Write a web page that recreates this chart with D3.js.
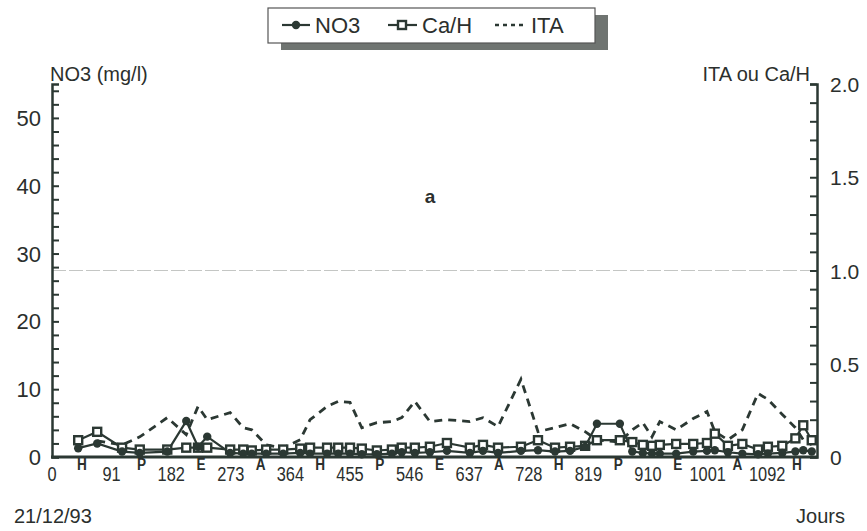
<!DOCTYPE html>
<html>
<head>
<meta charset="utf-8">
<script src="https://cdn.jsdelivr.net/npm/d3@7"></script>
<style>
  body { margin: 0; background: #ffffff; }
  text { fill: #2b2f2d; font-family: "Liberation Sans", Arial, sans-serif; }
</style>
</head>
<body>
<svg id="chart" width="867" height="531"></svg>
<script>
// sampling days since 21/12/93
var days = [40, 69, 107, 134, 176, 205, 223, 237, 272, 292, 305, 327, 353, 379, 394, 420,
  437, 455, 473, 496, 519, 534, 554, 577, 603, 638, 658, 681, 716, 742, 768, 791, 814,
  832, 867, 886, 902, 916, 928, 953, 979, 1000, 1012, 1032, 1054, 1078, 1093, 1115, 1135,
  1147, 1160];

// NO3 (mg/l), left axis
var no3 = [1.3, 2.0, 0.8, 0.6, 0.8, 5.3, 1.5, 3.0, 0.6, 0.5, 0.5, 0.5, 0.5, 0.6, 0.5, 0.5,
  0.5, 0.5, 0.4, 0.4, 0.5, 0.7, 0.6, 0.7, 0.9, 0.6, 0.9, 0.6, 0.9, 1.0, 0.8, 0.9, 1.5,
  4.9, 4.9, 0.8, 0.6, 0.5, 0.5, 0.5, 0.8, 0.9, 1.0, 0.7, 0.5, 0.4, 0.5, 0.6, 0.8,
  1.0, 0.8];

// Ca/H, right axis
var caH = [0.09, 0.135, 0.05, 0.04, 0.04, 0.05, 0.05, 0.05, 0.04, 0.04, 0.035, 0.04, 0.04, 0.045, 0.05, 0.05,
  0.05, 0.05, 0.045, 0.035, 0.04, 0.05, 0.05, 0.055, 0.075, 0.05, 0.065, 0.05, 0.055, 0.09, 0.05, 0.055, 0.06,
  0.09, 0.09, 0.08, 0.065, 0.06, 0.065, 0.07, 0.07, 0.075, 0.125, 0.06, 0.07, 0.04, 0.055, 0.06, 0.1,
  0.17, 0.09];

// ITA, right axis (no value on first sample)
var ita = [null, 0.087, 0.065, 0.108, 0.211, 0.12, 0.271, 0.2, 0.238, 0.157, 0.146, 0.065, 0.049, 0.092, 0.2, 0.271,
  0.298, 0.293, 0.157, 0.184, 0.19, 0.211, 0.298, 0.19, 0.2, 0.19, 0.211, 0.163, 0.417, 0.136, 0.157, 0.179, 0.136,
  0.092, 0.08, 0.146, 0.184, 0.108, 0.19, 0.146, 0.206, 0.244, 0.136, 0.092, 0.146, 0.341, 0.309, 0.228, 0.157,
  0.092, 0.065];

// x tick labels and season letters between them
var dayTicks = [0, 91, 182, 273, 364, 455, 546, 637, 728, 819, 910, 1001, 1092];
var seasons = ["H", "P", "E", "A", "H", "P", "E", "A", "H", "P", "E", "A", "H"];
var leftTicks = [0, 10, 20, 30, 40, 50];
var rightTicks = [0, 0.5, 1.0, 1.5, 2.0];

var ink = "#2b3833";
var svg = d3.select("#chart");

// Scales
var xScale = d3.scaleLinear().domain([0, 1168]).range([52, 817]);
var yLeft = d3.scaleLinear().domain([0, 55]).range([457, 84]);
var yRight = d3.scaleLinear().domain([0, 2.0]).range([457, 84]);

// faint line at 1.0
svg.append("line")
  .attr("x1", xScale(0)).attr("x2", xScale(1168))
  .attr("y1", yRight(1.0)).attr("y2", yRight(1.0))
  .attr("stroke", "#c4c6c4").attr("stroke-width", 1.2)
  .attr("stroke-dasharray", "14,3");

// Left axis (ticks inside, every 2)
var leftAxis = d3.axisRight(yLeft)
  .tickValues(d3.range(0, 55, 2))
  .tickSize(7)
  .tickFormat("");
svg.append("g")
  .attr("transform", "translate(" + xScale(0) + ",0)")
  .call(leftAxis)
  .call((g) => g.select(".domain").attr("stroke", ink).attr("stroke-width", 2.5))
  .call((g) => g.selectAll(".tick line").attr("stroke", ink).attr("stroke-width", 2));

svg.append("g").selectAll("text")
  .data(leftTicks)
  .enter()
  .append("text")
  .attr("x", 41)
  .attr("y", (d) => yLeft(d) + 8)
  .attr("text-anchor", "end")
  .style("font-size", "22px")
  .text((d) => d);

// Right axis (ticks inside, every 0.1)
var rightAxis = d3.axisLeft(yRight)
  .tickValues(d3.range(0, 21).map((i) => i / 10))
  .tickSize(7)
  .tickFormat("");
svg.append("g")
  .attr("transform", "translate(" + xScale(1168) + ",0)")
  .call(rightAxis)
  .call((g) => g.select(".domain").attr("stroke", ink).attr("stroke-width", 2.5))
  .call((g) => g.selectAll(".tick line").attr("stroke", ink).attr("stroke-width", 2));

svg.append("g").selectAll("text")
  .data(rightTicks)
  .enter()
  .append("text")
  .attr("x", 830)
  .attr("y", (d) => yRight(d) + 8)
  .style("font-size", "21px")
  .text((d) => (d === 0 ? "0" : d.toFixed(1)));

// Bottom axis line
svg.append("line")
  .attr("x1", xScale(0) - 1).attr("x2", xScale(1168) + 1)
  .attr("y1", yLeft(0)).attr("y2", yLeft(0))
  .attr("stroke", ink).attr("stroke-width", 3);

// Day numbers and season letters (condensed look)
svg.append("g").selectAll("text")
  .data(dayTicks)
  .enter()
  .append("text")
  .attr("transform", (d) => "translate(" + xScale(d) + ",481) scale(0.78,1)")
  .attr("text-anchor", "middle")
  .style("font-size", "21px")
  .text((d) => d);

svg.append("g").selectAll("text")
  .data(seasons)
  .enter()
  .append("text")
  .attr("transform", (d, i) => "translate(" + xScale(dayTicks[i] + 45.5) + ",470) scale(0.8,1)")
  .attr("text-anchor", "middle")
  .style("font-weight", "bold")
  .style("font-size", "17px")
  .text((d) => d);

// Axis titles and labels
svg.append("text").attr("x", 50).attr("y", 81)
  .style("font-size", "20px")
  .text("NO3 (mg/l)");
svg.append("text").attr("x", 810).attr("y", 81).attr("text-anchor", "end")
  .style("font-size", "20px")
  .text("ITA ou Ca/H");
svg.append("text").attr("x", 14).attr("y", 523)
  .style("font-size", "20px")
  .text("21/12/93");
svg.append("text").attr("x", 845).attr("y", 523).attr("text-anchor", "end")
  .style("font-size", "20px")
  .text("Jours");
svg.append("text").attr("x", 430).attr("y", 203).attr("text-anchor", "middle")
  .style("font-size", "19px")
  .style("font-weight", "bold")
  .text("a");

// Series lines
var idx = d3.range(days.length);

svg.append("path")
  .datum(idx.filter((i) => ita[i] != null))
  .attr("fill", "none").attr("stroke", ink).attr("stroke-width", 2.8)
  .attr("stroke-dasharray", "8,6")
  .attr("d", d3.line().x((i) => xScale(days[i])).y((i) => yRight(ita[i])));

svg.append("path")
  .datum(idx)
  .attr("fill", "none").attr("stroke", ink).attr("stroke-width", 2.2)
  .attr("d", d3.line().x((i) => xScale(days[i])).y((i) => yRight(caH[i])));

svg.append("path")
  .datum(idx)
  .attr("fill", "none").attr("stroke", ink).attr("stroke-width", 2.2)
  .attr("d", d3.line().x((i) => xScale(days[i])).y((i) => yLeft(no3[i])));

// Ca/H squares (hollow)
svg.append("g").selectAll("rect")
  .data(idx)
  .enter()
  .append("rect")
  .attr("x", (i) => xScale(days[i]) - 4)
  .attr("y", (i) => yRight(caH[i]) - 4)
  .attr("width", 8).attr("height", 8)
  .attr("fill", "#ffffff").attr("stroke", ink).attr("stroke-width", 2.4);

// NO3 dots
svg.append("g").selectAll("circle")
  .data(idx)
  .enter()
  .append("circle")
  .attr("cx", (i) => xScale(days[i]))
  .attr("cy", (i) => yLeft(no3[i]))
  .attr("r", 4.2)
  .attr("fill", ink);

// Legend with shadow
var lg = svg.append("g");
lg.append("rect").attr("x", 281).attr("y", 15).attr("width", 327).attr("height", 35)
  .attr("fill", "#6f7471");
lg.append("rect").attr("x", 268).attr("y", 8).attr("width", 327).attr("height", 35)
  .attr("fill", "#ffffff").attr("stroke", "#555").attr("stroke-width", 1.2);

lg.append("line").attr("x1", 282).attr("x2", 310).attr("y1", 25).attr("y2", 25)
  .attr("stroke", ink).attr("stroke-width", 2.2);
lg.append("circle").attr("cx", 296).attr("cy", 25).attr("r", 4.2).attr("fill", ink);
lg.append("text").attr("x", 315).attr("y", 33)
  .style("font-size", "22px")
  .text("NO3");

lg.append("line").attr("x1", 388).attr("x2", 417).attr("y1", 25).attr("y2", 25)
  .attr("stroke", ink).attr("stroke-width", 2.2);
lg.append("rect").attr("x", 398).attr("y", 21).attr("width", 8).attr("height", 8)
  .attr("fill", "#ffffff").attr("stroke", ink).attr("stroke-width", 2.4);
lg.append("text").attr("x", 422).attr("y", 33)
  .style("font-size", "22px")
  .text("Ca/H");

lg.append("line").attr("x1", 495).attr("x2", 525).attr("y1", 25).attr("y2", 25)
  .attr("stroke", ink).attr("stroke-width", 2.6).attr("stroke-dasharray", "4,4");
lg.append("text").attr("x", 531).attr("y", 33)
  .style("font-size", "22px")
  .text("ITA");
</script>
</body>
</html>
